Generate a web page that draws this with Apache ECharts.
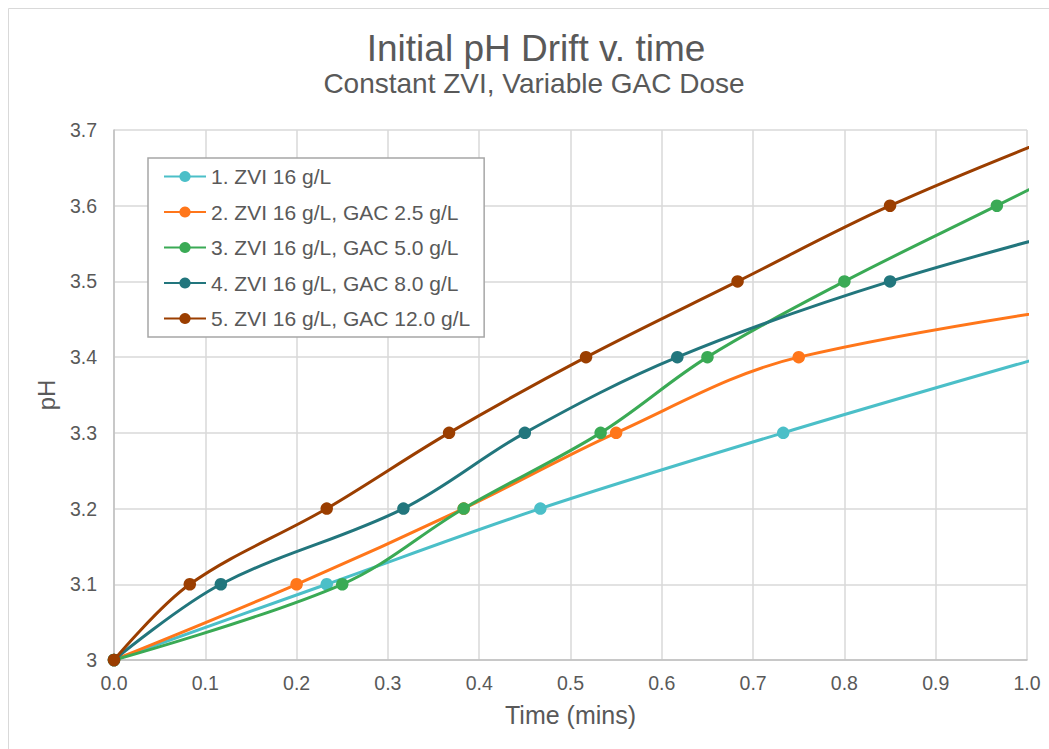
<!DOCTYPE html>
<html>
<head>
<meta charset="utf-8">
<script src="https://cdn.jsdelivr.net/npm/echarts@6/dist/echarts.min.js"></script>
<style>
html,body{margin:0;padding:0;background:#fff;}
#chart{width:1049px;height:749px;}
</style>
</head>
<body>
<div id="chart"></div>
<script>
// ---- data (time in minutes, pH) ----
const seriesNames = [
  '1. ZVI 16 g/L',
  '2. ZVI 16 g/L, GAC 2.5 g/L',
  '3. ZVI 16 g/L, GAC 5.0 g/L',
  '4. ZVI 16 g/L, GAC 8.0 g/L',
  '5. ZVI 16 g/L, GAC 12.0 g/L'
];
const s1Time = [0, 0.233, 0.467, 0.733, 1.017];
const s1PH   = [3.0, 3.1, 3.2, 3.3, 3.4];
const s2Time = [0, 0.2, 0.383, 0.55, 0.75, 1.25];
const s2PH   = [3.0, 3.1, 3.2, 3.3, 3.4, 3.5];
const s3Time = [0, 0.25, 0.383, 0.533, 0.65, 0.8, 0.967, 1.133];
const s3PH   = [3.0, 3.1, 3.2, 3.3, 3.4, 3.5, 3.6, 3.7];
const s4Time = [0, 0.117, 0.317, 0.45, 0.617, 0.85, 1.15];
const s4PH   = [3.0, 3.1, 3.2, 3.3, 3.4, 3.5, 3.6];
const s5Time = [0, 0.083, 0.233, 0.367, 0.517, 0.683, 0.85, 1.05];
const s5PH   = [3.0, 3.1, 3.2, 3.3, 3.4, 3.5, 3.6, 3.7];
const seriesColors = ['#4BBFC8', '#FF761A', '#3AAA55', '#22767D', '#9B3E00'];

const titleText = 'Initial pH Drift v. time';
const subtitleText = 'Constant ZVI, Variable GAC Dose';
const xAxisName = 'Time (mins)';
const yAxisName = 'pH';

const times = [s1Time, s2Time, s3Time, s4Time, s5Time];
const phs = [s1PH, s2PH, s3PH, s4PH, s5PH];

const chart = echarts.init(document.getElementById('chart'), null, {renderer: 'svg'});
const textColor = '#595959';
const font = 'Liberation Sans, Arial, sans-serif';

const series = seriesNames.map((name, i) => ({
  name: name,
  type: 'line',
  data: times[i].map((t, j) => [t, phs[i][j]]),
  smooth: 0.35,
  clip: true,
  symbol: 'circle',
  symbolSize: 12.5,
  showAllSymbol: true,
  lineStyle: {width: 3, color: seriesColors[i]},
  itemStyle: {color: seriesColors[i]},
  emphasis: {disabled: true},
  z: 2 + i
}));

chart.setOption({
  animation: false,
  backgroundColor: '#fff',
  graphic: [{
    type: 'rect',
    shape: {x: 8.5, y: 8.5, width: 1100, height: 800},
    style: {fill: 'none', stroke: '#d9d9d9', lineWidth: 1},
    silent: true, z: -10
  }],
  title: [
    {text: titleText, left: 531, textAlign: 'center', top: 25,
     textStyle: {fontFamily: font, fontSize: 37, fontWeight: 'normal', color: textColor}},
    {text: subtitleText, left: 529, textAlign: 'center', top: 64,
     textStyle: {fontFamily: font, fontSize: 28, fontWeight: 'normal', color: textColor}}
  ],
  legend: {
    orient: 'vertical',
    left: 148, top: 158,
    padding: [8, 14, 8, 15],
    itemGap: 14.5,
    itemWidth: 42, itemHeight: 14,
    borderColor: '#a6a6a6', borderWidth: 1.5,
    backgroundColor: '#fff',
    textStyle: {fontFamily: font, fontSize: 21, color: textColor},
    data: seriesNames
  },
  grid: {left: 114, right: 22, top: 130, bottom: 89, containLabel: false},
  xAxis: {
    type: 'value', min: 0, max: 1, interval: 0.1,
    name: xAxisName, nameLocation: 'middle', nameGap: 42,
    nameTextStyle: {fontFamily: font, fontSize: 25, color: textColor},
    axisLine: {show: true, lineStyle: {color: '#bfbfbf', width: 1.5}},
    axisTick: {show: false},
    axisLabel: {fontFamily: font, fontSize: 19.5, color: textColor, margin: 13,
      formatter: v => v.toFixed(1)},
    splitLine: {show: true, lineStyle: {color: '#d9d9d9', width: 1.5}}
  },
  yAxis: {
    type: 'value', min: 3, max: 3.7, interval: 0.1,
    name: yAxisName, nameLocation: 'middle', nameGap: 52, nameRotate: 90,
    nameTextStyle: {fontFamily: font, fontSize: 24, color: textColor},
    axisLine: {show: true, lineStyle: {color: '#bfbfbf', width: 1.5}},
    axisTick: {show: false},
    axisLabel: {fontFamily: font, fontSize: 19.5, color: textColor, margin: 17,
      formatter: v => String(Math.round(v * 10) / 10)},
    splitLine: {show: true, lineStyle: {color: '#d9d9d9', width: 1.5}}
  },
  series: series
});
</script>
</body>
</html>
